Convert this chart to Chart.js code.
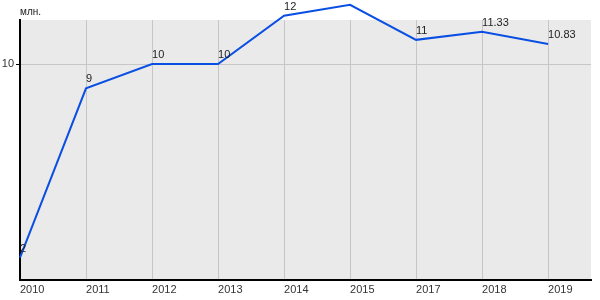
<!DOCTYPE html>
<html>
<head>
<meta charset="utf-8">
<script src="https://cdn.jsdelivr.net/npm/chart.js@4"></script>
<style>
	html, body { margin: 0; padding: 0; background: #fff; }
	#wrap { width: 600px; height: 300px; }
</style>
</head>
<body>
<div id="wrap"><canvas id="myChart"></canvas></div>
<script>
//+++++++++++++++++++++++ Start:data +++++++++++++++++++++++
var years = ['2010', '2011', '2012', '2013', '2014', '2015', '2017', '2018', '2019'];
var values = [2, 9, 10, 10, 12, 12.45, 11, 11.33, 10.83];
var valueLabels = ['2', '9', '10', '10', '12', '12.45', '11', '11.33', '10.83'];
var yTicks = [10];
var unitLabel = 'млн.';
//-------------------- End:data --------------------

var plotBg = {
	id: 'plotBg',
	beforeDraw: function (chart) {
		var c = chart.ctx, a = chart.chartArea;
		c.save();
		c.fillStyle = '#eaeaea';
		c.fillRect(a.left, a.top, a.right - a.left, a.bottom - a.top);
		c.restore();
	}
};

var extras = {
	id: 'extras',
	afterDatasetsDraw: function (chart) {
		var c = chart.ctx, a = chart.chartArea;
		var meta = chart.getDatasetMeta(0);
		c.save();
		c.font = '11px "Liberation Sans", Arial, sans-serif';
		c.fillStyle = '#222';
		c.textAlign = 'left';
		c.textBaseline = 'alphabetic';
		meta.data.forEach(function (pt, i) {
			c.fillText(valueLabels[i], pt.x, pt.y - 6);
		});
		c.font = '10px "Liberation Sans", Arial, sans-serif';
		c.fillText(unitLabel, a.left, a.top - 5);
		c.restore();
	}
};

var ctx = document.getElementById('myChart').getContext('2d');
var chart = new Chart(ctx, {
	type: 'line',
	data: {
		datasets: [{
			data: values.map(function (v, i) { return { x: i, y: v }; }),
			borderColor: '#0a4fe3',
			backgroundColor: 'transparent',
			borderWidth: 2,
			pointRadius: 0,
			tension: 0,
			clip: false
		}]
	},
	options: {
		responsive: true,
		maintainAspectRatio: false,
		animation: false,
		layout: { padding: { top: 20, right: 9, left: 0, bottom: 0 } },
		plugins: {
			legend: { display: false },
			tooltip: { enabled: false }
		},
		scales: {
			x: {
				type: 'linear',
				min: 0,
				max: 8.65,
				afterBuildTicks: function (scale) {
					scale.ticks = years.map(function (y, i) { return { value: i }; });
				},
				afterFit: function (scale) { scale.height = 20; },
				ticks: {
					includeBounds: false,
					autoSkip: false,
					maxRotation: 0,
					align: 'start',
					padding: 3,
					color: '#333',
					font: { size: 11, family: '"Liberation Sans", Arial, sans-serif' },
					callback: function (v) { return years[v]; }
				},
				grid: { color: '#c6c6c6', lineWidth: 1, tickLength: 0 },
				border: { color: '#000', width: 2 }
			},
			y: {
				min: 1.08,
				max: 11.82,
				afterBuildTicks: function (scale) {
					scale.ticks = yTicks.map(function (v) { return { value: v }; });
				},
				afterFit: function (scale) { scale.width = 20; },
				ticks: {
					padding: 2,
					color: '#333',
					font: { size: 11, family: '"Liberation Sans", Arial, sans-serif' }
				},
				grid: { color: '#c6c6c6', lineWidth: 1, tickLength: 4, tickColor: '#000' },
				border: { color: '#000', width: 2 }
			}
		}
	},
	plugins: [plotBg, extras]
});
</script>
</body>
</html>
